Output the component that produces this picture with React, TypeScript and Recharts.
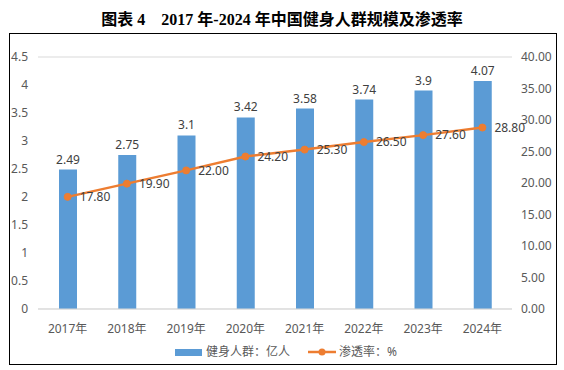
import React from "react";
import {
  ComposedChart,
  Bar,
  Line,
  XAxis,
  YAxis,
  CartesianGrid,
  Legend,
  LabelList,
} from "recharts";

const years = ["2017年", "2018年", "2019年", "2020年", "2021年", "2022年", "2023年", "2024年"];
const fitnessPeople = [2.49, 2.75, 3.1, 3.42, 3.58, 3.74, 3.9, 4.07];
const penetration = [17.8, 19.9, 22.0, 24.2, 25.3, 26.5, 27.6, 28.8];
const leftTicks = [0, 0.5, 1, 1.5, 2, 2.5, 3, 3.5, 4, 4.5];
const rightTicks = [0, 5, 10, 15, 20, 25, 30, 35, 40];

const BLUE = "#5B9BD5";
const ORANGE = "#ED7D31";
const FONT = '"Noto Sans", "Noto Sans CJK SC", sans-serif';

const chartData = years.map((year, i) => ({
  year,
  people: fitnessPeople[i],
  rate: penetration[i],
}));

function LegendContent() {
  return (
    <div
      style={{
        height: 31,
        display: "flex",
        justifyContent: "center",
        alignItems: "flex-start",
        paddingTop: 5,
        boxSizing: "border-box",
        fontFamily: FONT,
        fontSize: 12,
        color: "#595959",
        lineHeight: "16px",
      }}
    >
      <div style={{ display: "flex", alignItems: "center", marginRight: 18 }}>
        <span style={{ width: 27, height: 7, background: BLUE, marginRight: 4 }} />
        <span>健身人群：亿人</span>
      </div>
      <div style={{ display: "flex", alignItems: "center" }}>
        <svg width={28} height={10} style={{ marginRight: 3 }}>
          <line x1={0} y1={5} x2={28} y2={5} stroke={ORANGE} strokeWidth={2.5} />
          <circle cx={14} cy={5} r={3.5} fill={ORANGE} />
        </svg>
        <span>渗透率：%</span>
      </div>
    </div>
  );
}

export default function App() {
  const tick = { fontSize: 12, fill: "#595959", fontFamily: FONT };
  return (
    <div style={{ position: "absolute", left: 0, top: 0, width: 564, height: 370, background: "#fff" }}>
      <div
        style={{
          position: "absolute",
          left: 0,
          top: 9,
          width: 564,
          textAlign: "center",
          fontFamily: '"Liberation Serif", "Noto Sans CJK SC", serif',
          fontWeight: "bold",
          fontSize: 16,
          lineHeight: "22px",
          color: "#000",
          whiteSpace: "pre",
        }}
      >
        {"图表 4    2017 年-2024 年中国健身人群规模及渗透率"}
      </div>
      <div
        style={{
          position: "absolute",
          left: 9,
          top: 33,
          width: 548,
          height: 332,
          border: "1px solid #000",
          boxSizing: "border-box",
        }}
      />
      <div style={{ position: "absolute", left: 0, top: 0 }}>
        <ComposedChart
          width={564}
          height={370}
          data={chartData}
          margin={{ top: 57, right: 0, left: 8, bottom: 0 }}
          barCategoryGap={0}
        >
          <CartesianGrid vertical={false} stroke="#D9D9D9" />
          <XAxis
            dataKey="year"
            height={30}
            tick={tick}
            tickLine={false}
            axisLine={{ stroke: "#D9D9D9" }}
            tickMargin={9}
          />
          <YAxis
            yAxisId="left"
            width={30}
            domain={[0, 4.5]}
            ticks={leftTicks}
            interval={0}
            tick={tick}
            tickLine={false}
            axisLine={false}
            tickMargin={4}
          />
          <YAxis
            yAxisId="right"
            orientation="right"
            width={52}
            domain={[0, 40]}
            ticks={rightTicks}
            interval={0}
            tick={{ ...tick, textAnchor: "start" }}
            tickFormatter={(v) => Number(v).toFixed(2)}
            tickLine={false}
            axisLine={false}
            tickMargin={3}
          />
          <Legend verticalAlign="bottom" height={31} content={<LegendContent />} />
          <Bar
            yAxisId="left"
            dataKey="people"
            name="健身人群：亿人"
            fill={BLUE}
            barSize={18}
            isAnimationActive={false}
          >
            <LabelList dataKey="people" position="top" offset={6} fill="#404040" fontSize={12} fontFamily={FONT} />
          </Bar>
          <Line
            yAxisId="right"
            dataKey="rate"
            name="渗透率：%"
            stroke={ORANGE}
            strokeWidth={2.5}
            dot={{ r: 3.5, fill: ORANGE, stroke: ORANGE, strokeWidth: 1 }}
            activeDot={false}
            isAnimationActive={false}
          >
            <LabelList
              dataKey="rate"
              position="right"
              offset={12}
              fill="#404040"
              fontSize={12}
              fontFamily={FONT}
              formatter={(v: number) => Number(v).toFixed(2)}
            />
          </Line>
        </ComposedChart>
      </div>
    </div>
  );
}
